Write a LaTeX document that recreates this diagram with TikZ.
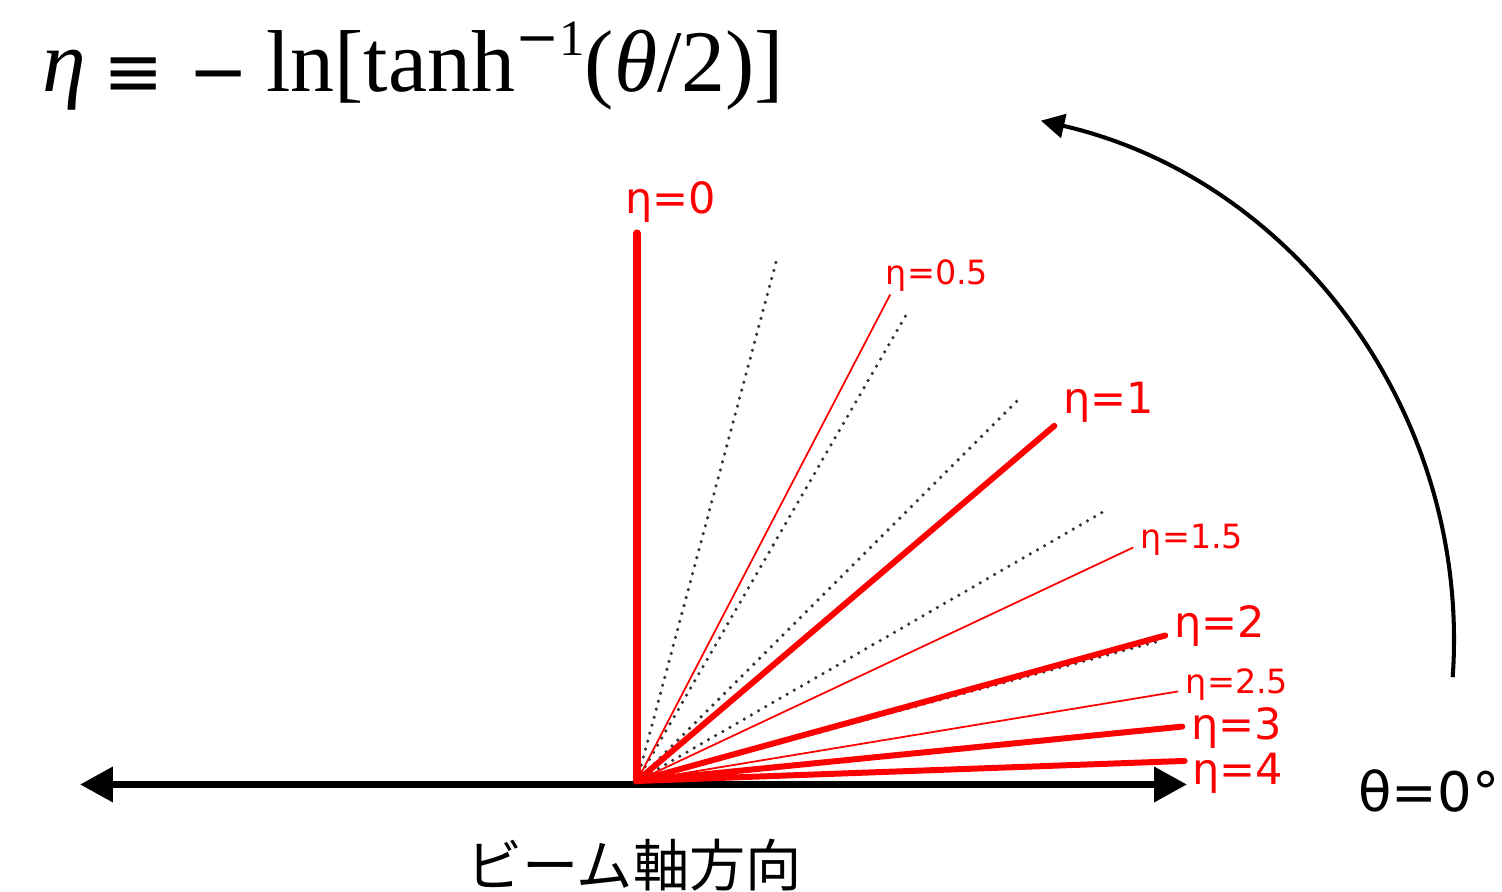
\documentclass[tikz,border=0pt]{standalone}
\usepackage{fontspec}
\setmainfont{Liberation Serif}
\newfontfamily\labfont{DejaVu Sans}
\newfontfamily\cjk{Noto Sans CJK JP}
\usetikzlibrary{arrows.meta}
\newcommand{\opsym}[1]{\raisebox{-2.5pt}{\labfont\fontsize{41}{41}\selectfont #1}}
\newcommand{\supm}[1]{\raisebox{0.42em}{\fontsize{29}{29}\selectfont{\labfont\fontsize{30}{30}\selectfont −}#1}}

\begin{document}
\begin{tikzpicture}[x=0.02cm,y=0.02cm,line cap=round,line join=round,
  ray/.style={red,line width=3.4pt},
  thinray/.style={red,line width=1pt},
  guide/.style={black!80,line width=2pt,dash pattern=on 0pt off 4.7pt},
  big/.style={text=red,font=\labfont\fontsize{24.5}{24.5}\selectfont},
  small/.style={text=red,font=\labfont\fontsize{19}{19}\selectfont}]
  \useasboundingbox (-637,-111) rectangle (865,781);
  \coordinate (O) at (0,0);
  \coordinate (L) at (-557,-3.5);
  \coordinate (R) at (550,-3.5);
  \coordinate (C) at (284,141);
  \coordinate (E0) at (90:548);
  \coordinate (E05) at (62.5:548);
  \coordinate (E1) at (40.4:548);
  \coordinate (E15) at (25.2:548);
  \coordinate (E2) at (15.4:548);
  \coordinate (E25) at (9.4:548);
  \coordinate (E3) at (5.7:548);
  \coordinate (E4) at (2.1:548);
  % dotted guides every 15 degrees
  \draw[guide] (O)--(75:542) (O)--(60:542) (O)--(45:542) (O)--(30:542) (O)--(15:542);
  % beam axis
  \draw[line width=4pt,line cap=butt,{Triangle[length=0.66cm,width=0.68cm]}-{Triangle[length=0.66cm,width=0.68cm]}] (L)--(R);
  % rays
  \draw[thinray] (O)--(E05) (O)--(E15) (O)--(E25);
  \draw[ray] (O)--(E1) (O)--(E2) (O)--(E3) (O)--(E4);
  \draw[red,line width=4pt] (O)--(E0);
  % theta arrow
  \draw[line width=2.3pt,line cap=butt,-{Triangle[length=0.47cm,width=0.48cm]}] (C) ++(-4:533) arc[start angle=-4,end angle=77,radius=533];
  \node[big] (l0) at (34,579) {η=0};
  \node[small] (l05) at (300,505) {η=0.5};
  \node[big] (l1) at (472,379) {η=1};
  \node[small] (l15) at (555,241) {η=1.5};
  \node[big] (l2) at (583,155) {η=2};
  \node[small] (l25) at (600,96) {η=2.5};
  \node[big] (l3) at (600,53) {η=3};
  \node[big] (l4) at (601,8) {η=4};
  \node[font=\labfont\fontsize{31}{31}\selectfont] (th) at (792,-10) {θ=0°};
  \node[font=\cjk\fontsize{32}{32}\selectfont] (beam) at (-3,-84) {ビーム軸方向};
  \node[anchor=base west,inner sep=0pt,font=\fontsize{50}{50}\selectfont] (eq) at (-595,689)
    {\textit{η}\hspace{0.2em}\opsym{≡}\hspace{0.28em}\opsym{−}\hspace{0.2em}ln[tanh\supm{1}(\textit{θ}/2)]};
\end{tikzpicture}
\end{document}
